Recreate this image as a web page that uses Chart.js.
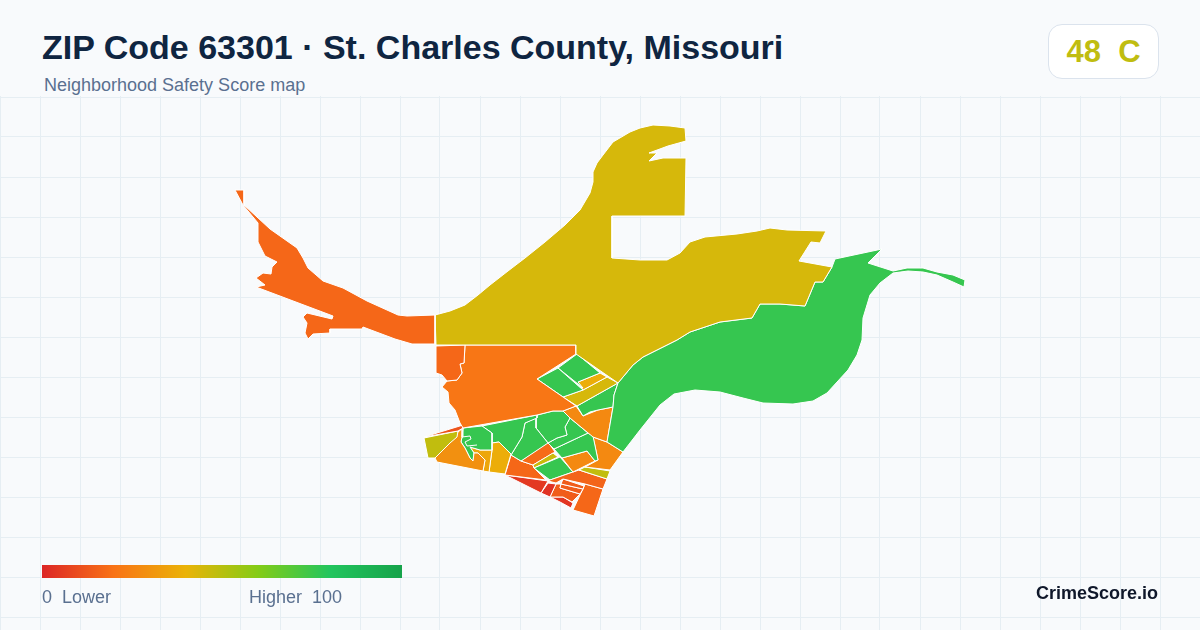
<!DOCTYPE html>
<html>
<head>
<meta charset="utf-8">
<title>ZIP Code 63301</title>
<script src="https://cdn.jsdelivr.net/npm/chart.js@4"></script>
<style>
  html, body { margin: 0; padding: 0; background: #f8fafc; }
  body { width: 1200px; height: 630px; overflow: hidden; position: relative; font-family: "Liberation Sans", Arial, sans-serif; }
  #map { position: absolute; left: 0; top: 96px; }
  .txt { position: absolute; white-space: pre; line-height: 1; }
  #title { left: 42px; top: 30px; font-size: 34px; font-weight: 700; color: #0f2541; }
  #sub { left: 44px; top: 76px; font-size: 18px; color: #5a7090; }
  #badge { position: absolute; left: 1048px; top: 24px; width: 109px; height: 53px; background: #fff; border: 1px solid #dbe3ed; border-radius: 14px; text-align: center; font-size: 31px; line-height: 53px; font-weight: 700; color: #c0bd10; white-space: pre; }
  #bar { position: absolute; left: 42px; top: 565px; width: 360px; height: 13px; }
  #low { left: 42px; top: 588px; font-size: 18px; color: #5a7090; }
  #high { left: 249px; top: 588px; font-size: 18px; color: #5a7090; }
  #brand { right: 42px; top: 584px; font-size: 18px; font-weight: 700; color: #0f172a; }
</style>
</head>
<body>
<canvas id="map" width="1200" height="534"></canvas>
<div class="txt" id="title">ZIP Code 63301 · St. Charles County, Missouri</div>
<div class="txt" id="sub">Neighborhood Safety Score map</div>
<div id="badge">48  C</div>
<div id="bar"></div>
<div class="txt" id="low">0  Lower</div>
<div class="txt" id="high">Higher  100</div>
<div class="txt" id="brand">CrimeScore.io</div>
<script>
const gridX = [0, 40, 80, 120, 160, 200, 240, 280, 320, 360, 400, 440, 480, 520, 560, 600, 640, 680, 720, 760, 800, 840, 880, 920, 960, 1000, 1040, 1080, 1120, 1160, 1200];
const gridY = [97, 137, 177, 217, 257, 297, 337, 377, 417, 457, 497, 537, 577, 617];

// legend colours, every 20 points of the score
const scoreStops = [0, 20, 40, 60, 80, 100];
const stopColors = [[220, 38, 38], [249, 115, 22], [234, 179, 8], [132, 204, 22], [34, 197, 94], [22, 163, 74]];

// tract outlines
const westArm = [[235,190],[244,190],[244,205],[257,217],[270,229],[297,248],[303,258],[308,268],[323,281],[343,288],[367,301],[398,315],[407,316],[435,315],[435,344],[412,344],[395,339],[363,327],[362,329],[330,329],[330,333],[313,334],[308,339],[305,333],[307,323],[303,317],[307,313],[332,319],[333,316],[256,287],[265,285],[256,278],[263,273],[271,274],[272,267],[277,262],[265,256],[258,242],[258,223],[243,205]];
const northYellow = [[435,315],[450,311],[465,305],[478,295],[490,285],[508,271],[525,258],[545,242],[565,225],[580,210],[590,193],[593,182],[593,172],[597,163],[603,155],[613,142],[630,132],[640,128],[653,125],[670,126],[685,128],[686,141],[668,146],[649,153],[657,153],[649,161],[663,158],[686,158],[685,216],[612,216],[612,258],[640,260],[667,260],[680,253],[690,242],[705,237],[737,234],[757,231],[770,228],[787,230],[826,231],[820,243],[811,242],[799,261],[832,267],[823,282],[815,282],[805,306],[780,304],[760,304],[752,318],[720,322],[690,332],[677,340],[643,357],[633,365],[618,383],[576,354],[576,345],[436,345]];
const eastGreen = [[832,267],[835,259],[882,249],[868,263],[893,271],[907,268],[923,268],[937,272],[953,275],[965,280],[964,287],[953,282],[937,275],[923,272],[908,271],[893,273],[880,283],[870,295],[863,318],[862,340],[857,355],[848,370],[827,393],[813,401],[793,404],[763,403],[743,398],[720,392],[695,390],[674,394],[660,405],[640,430],[623,452],[607,442],[613,407],[614,395],[618,383],[633,365],[643,357],[677,340],[690,332],[720,322],[752,318],[760,304],[780,304],[805,306],[815,282],[823,282]];
const westTract = [[436,346],[465,345],[464,363],[460,364],[462,373],[457,380],[447,381],[442,375],[436,373]];
const midOrange = [[465,345],[576,345],[576,354],[537,379],[563,397],[576,406],[563,411],[553,411],[537,415],[463,428],[460,423],[455,410],[449,403],[448,392],[442,387],[447,381],[457,380],[462,373],[460,364],[464,363]];
const diamondLow = [[537,379],[558,368],[583,390],[563,397]];
const diamondHigh = [[558,368],[577,354],[600,373],[578,382],[583,388]];
const diamondOrange = [[578,382],[600,373],[607,377],[583,390]];
const diamondStrip = [[563,397],[583,390],[607,377],[618,383],[577,406]];
const riverGreen = [[577,406],[618,383],[614,395],[613,407],[598,410],[590,412],[583,416]];
const riverOrange = [[576,406],[583,416],[598,410],[613,407],[607,442],[593,437],[570,418],[563,411]];
const thinStrip = [[424,437],[463,425],[463,428],[458,431]];
const limeWest = [[424,438],[458,431],[457,437],[450,443],[435,458],[428,458]];
const orangeWest = [[435,458],[450,443],[458,432],[463,428],[462,437],[461,442],[465,448],[470,458],[473,461],[474,453],[478,453],[485,460],[483,471],[437,462]];
const loopGreen = [[463,428],[482,426],[492,433],[492,450],[480,450],[470,447],[474,453],[473,461],[470,458],[465,448],[461,442],[462,437]];
const loopAmber = [[470,447],[480,450],[492,450],[489,472],[483,471],[485,460],[478,453],[474,453]];
const amberTract = [[492,443],[499,442],[511,454],[505,474],[489,472],[492,450]];
const wideGreen = [[482,426],[537,415],[537,418],[525,423],[522,437],[511,455],[499,442],[492,443],[492,433]];
const midGreen = [[511,455],[522,437],[525,423],[536,418],[536,428],[548,443],[521,461]];
const topGreen = [[537,415],[553,411],[563,411],[570,418],[565,427],[567,435],[557,438],[548,443],[536,428],[536,418]];
const rightGreen = [[548,443],[557,438],[567,435],[565,427],[570,418],[588,433],[554,449]];
const lowGreen = [[554,449],[588,433],[593,436],[598,460],[595,461],[587,451],[562,458]];
const smallOrange = [[562,458],[587,451],[595,461],[573,472]];
const cornerOrange = [[593,437],[607,442],[623,452],[610,470],[585,467],[598,460]];
const limeStripe = [[585,467],[610,471],[607,479],[579,470]];
const southStrip = [[550,480],[573,472],[579,470],[607,479],[603,489],[585,484],[563,479],[556,483],[548,481]];
const southGreen = [[534,468],[560,457],[573,472],[550,480]];
const diagYellow = [[533,465],[553,453],[558,457],[534,468]];
const diagOrange = [[521,461],[548,442],[555,452],[533,465]];
const southOrange = [[511,455],[521,461],[533,465],[534,468],[546,480],[505,475]];
const redStrip = [[505,475],[548,481],[541,493],[535,490]];
const redBox = [[548,483],[556,484],[550,497],[541,493]];
const blockA = [[563,479],[584,486],[583,489],[561,484]];
const blockB = [[561,484],[583,489],[580,494],[560,488]];
const blockC = [[556,484],[561,484],[560,488],[580,494],[572,502],[563,497],[550,497]];
const redBlock = [[550,497],[563,497],[573,503],[571,508],[560,502]];
const farSouth = [[585,484],[603,489],[594,516],[573,510],[580,495],[583,489]];

const tracts = [westArm, northYellow, eastGreen, westTract, midOrange, diamondLow, diamondHigh, diamondOrange, diamondStrip, riverGreen, riverOrange, thinStrip, limeWest, orangeWest, loopGreen, loopAmber, amberTract, wideGreen, midGreen, topGreen, rightGreen, lowGreen, smallOrange, cornerOrange, limeStripe, southStrip, southGreen, diagYellow, diagOrange, southOrange, redStrip, redBox, blockA, blockB, blockC, redBlock, farSouth];
const tractScores = [17, 44, 76, 17, 21, 76, 76, 38, 44, 76, 27, 12, 48, 29, 76, 36, 38, 76, 76, 76, 76, 76, 27, 27, 48, 16, 76, 46, 18, 17, 5, 3, 14, 14, 14, 4, 17];

// white street squiggle inside the looped tract
const loopStreet = [[462,437],[470,436],[471,439],[465,442],[467,446],[477,445]];

function scoreColor(score) {
  let i = 0;
  while (i < scoreStops.length - 2 && score > scoreStops[i + 1]) i++;
  const t = (score - scoreStops[i]) / (scoreStops[i + 1] - scoreStops[i]);
  const c = stopColors[i].map((v, k) => Math.round(v + (stopColors[i + 1][k] - v) * t));
  return `rgb(${c[0]},${c[1]},${c[2]})`;
}

document.getElementById("bar").style.background =
  "linear-gradient(to right," + scoreStops.map(s => scoreColor(s) + " " + s + "%").join(",") + ")";

const datasets = tracts.map((pts, i) => ({
  data: pts.concat([pts[0]]).map(p => ({ x: p[0], y: p[1] })),
  showLine: true,
  fill: "shape",
  backgroundColor: scoreColor(tractScores[i]),
  borderColor: "#ffffff",
  borderWidth: 1,
  borderJoinStyle: "round",
  tension: 0,
  pointRadius: 0
}));

datasets.unshift({
  data: loopStreet.map(p => ({ x: p[0], y: p[1] })),
  showLine: true,
  fill: false,
  borderColor: "#ffffff",
  borderWidth: 1,
  tension: 0,
  pointRadius: 0
});

new Chart(document.getElementById("map"), {
  type: "scatter",
  data: { datasets: datasets },
  options: {
    responsive: false,
    animation: false,
    layout: { padding: 0 },
    plugins: { legend: { display: false }, tooltip: { enabled: false } },
    scales: {
      x: {
        type: "linear", min: 0, max: 1200,
        afterBuildTicks: s => { s.ticks = gridX.map(v => ({ value: v })); },
        ticks: { display: false, autoSkip: false },
        border: { display: false },
        grid: { color: "#e6eef3", lineWidth: 1, drawTicks: false }
      },
      y: {
        type: "linear", min: 96, max: 630, reverse: true,
        afterBuildTicks: s => { s.ticks = gridY.map(v => ({ value: v })); },
        ticks: { display: false, autoSkip: false },
        border: { display: false },
        grid: { color: "#e6eef3", lineWidth: 1, drawTicks: false }
      }
    }
  }
});
</script>
</body>
</html>
